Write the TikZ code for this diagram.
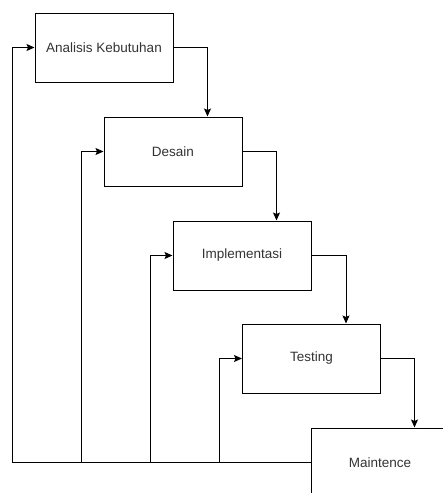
\documentclass[tikz,border=0pt]{standalone}
\usepackage{fontspec}
\setmainfont{Liberation Sans}
\usetikzlibrary{arrows.meta}

\begin{document}
\begin{tikzpicture}[x=1pt,y=-1pt,>={Stealth[length=8pt,width=7pt,inset=1.5pt]},line width=1pt,
    stage/.style={draw,minimum width=138pt,minimum height=69pt,inner sep=0pt,
      text=black!80,font=\fontsize{13.5}{16}\selectfont}]
    \path[use as bounding box,clip] (0,0) rectangle (443,493);
    \node[stage] (ana) at (104,47.5) {Analisis Kebutuhan};
    \node[stage] (des) at (173,151.5) {Desain};
    \node[stage] (imp) at (242,255.5) {Implementasi};
    \node[stage] (tes) at (311.5,358.5) {Testing};
    \node[stage] (mai) at (380,462.5) {Maintence};
    % turun ke tahap berikutnya
    \foreach \a/\b in {ana/des,des/imp,imp/tes,tes/mai}
      \draw[->] (\a.east) -| ([xshift=34.5pt]\b.north);
    % umpan balik ke tiap tahap
    \draw (12,0|-mai.west) -- (mai.west);
    \foreach \x/\b in {12/ana,81/des,150/imp,219/tes}
      \draw[->] (\x,0|-mai.west) |- (\b.west);
  \end{tikzpicture}
\end{document}
